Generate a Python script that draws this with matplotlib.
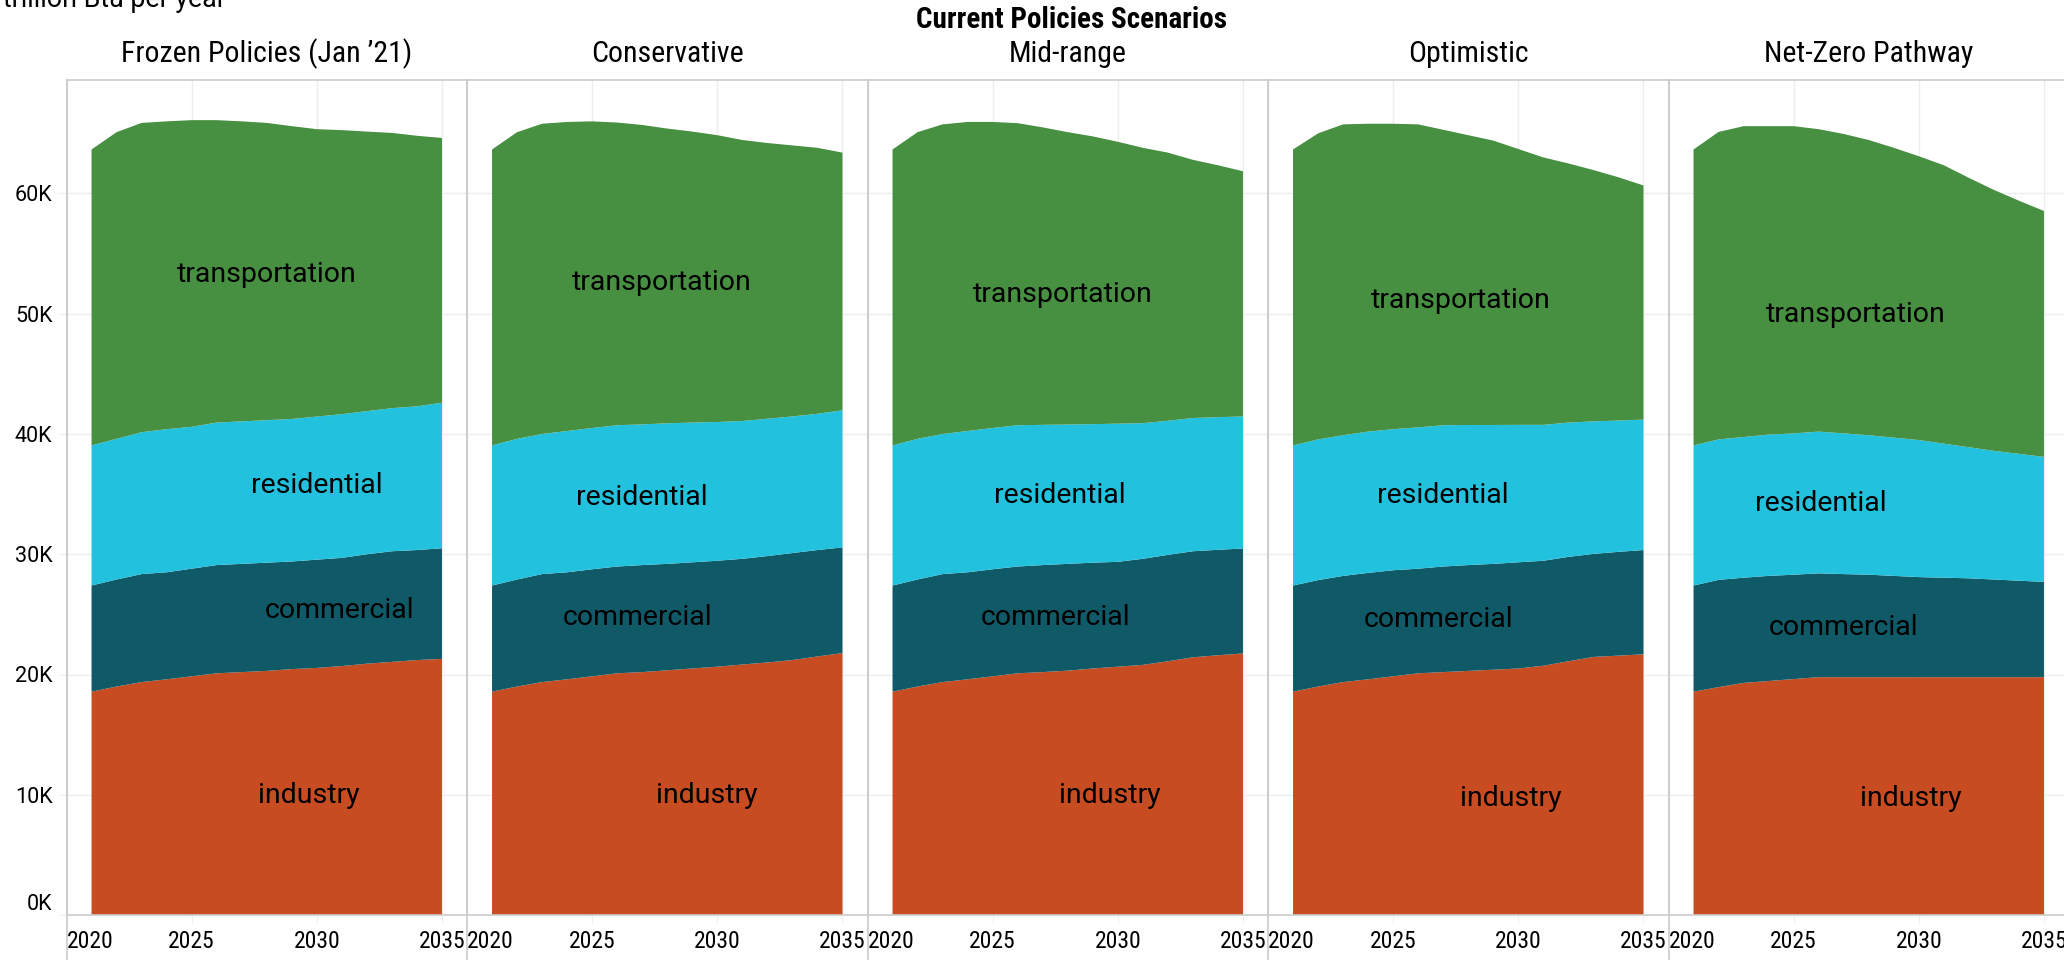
import matplotlib
matplotlib.use("Agg")
import matplotlib.pyplot as plt
from matplotlib import font_manager
from matplotlib.lines import Line2D
from matplotlib.ticker import FuncFormatter
import numpy as np

# data, in thousand trillion Btu per year
years = list(range(2021, 2036))
scenarios = ["Frozen Policies (Jan \u201921)", "Conservative", "Mid-range",
             "Optimistic", "Net-Zero Pathway"]
sectors = ["industry", "commercial", "residential", "transportation"]

industry = [
    [18.57, 19.0, 19.37, 19.6, 19.85, 20.1, 20.2, 20.3, 20.45, 20.55, 20.7, 20.9, 21.05, 21.2, 21.3],
    [18.57, 19.0, 19.37, 19.6, 19.85, 20.1, 20.2, 20.35, 20.5, 20.65, 20.83, 21.0, 21.2, 21.5, 21.78],
    [18.57, 19.0, 19.37, 19.6, 19.85, 20.1, 20.2, 20.32, 20.5, 20.65, 20.8, 21.1, 21.43, 21.6, 21.75],
    [18.57, 19.0, 19.37, 19.6, 19.85, 20.1, 20.2, 20.3, 20.4, 20.5, 20.73, 21.1, 21.46, 21.57, 21.68],
    [18.57, 18.95, 19.3, 19.46, 19.62, 19.78, 19.78, 19.78, 19.78, 19.78, 19.78, 19.78, 19.78, 19.78, 19.78],
]
commercial = [
    [8.83, 8.9, 8.98, 8.9, 8.95, 9.0, 9.0, 9.0, 8.95, 9.0, 9.0, 9.1, 9.2, 9.15, 9.2],
    [8.83, 8.9, 8.98, 8.9, 8.9, 8.88, 8.9, 8.85, 8.83, 8.81, 8.79, 8.85, 8.9, 8.85, 8.79],
    [8.83, 8.9, 8.98, 8.9, 8.9, 8.88, 8.9, 8.88, 8.8, 8.72, 8.82, 8.85, 8.82, 8.77, 8.73],
    [8.83, 8.85, 8.83, 8.85, 8.82, 8.7, 8.78, 8.8, 8.8, 8.83, 8.73, 8.68, 8.57, 8.63, 8.67],
    [8.83, 8.92, 8.75, 8.74, 8.68, 8.63, 8.57, 8.52, 8.42, 8.32, 8.27, 8.22, 8.12, 8.02, 7.92],
]
residential = [
    [11.65, 11.7, 11.8, 11.9, 11.8, 11.85, 11.85, 11.85, 11.85, 11.9, 11.95, 11.9, 11.9, 11.95, 12.1],
    [11.65, 11.7, 11.65, 11.75, 11.75, 11.75, 11.7, 11.69, 11.62, 11.54, 11.46, 11.42, 11.36, 11.33, 11.4],
    [11.65, 11.7, 11.65, 11.75, 11.75, 11.75, 11.66, 11.59, 11.52, 11.49, 11.28, 11.15, 11.08, 11.03, 10.98],
    [11.65, 11.7, 11.7, 11.75, 11.73, 11.75, 11.75, 11.65, 11.55, 11.43, 11.3, 11.17, 11.02, 10.92, 10.85],
    [11.65, 11.68, 11.7, 11.75, 11.75, 11.79, 11.7, 11.6, 11.5, 11.4, 11.15, 10.9, 10.7, 10.55, 10.4],
]
transportation = [
    [24.61, 25.5, 25.72, 25.6, 25.5, 25.15, 24.95, 24.72, 24.35, 23.9, 23.62, 23.25, 22.89, 22.5, 22.02],
    [24.61, 25.5, 25.8, 25.7, 25.5, 25.17, 24.9, 24.51, 24.2, 23.85, 23.37, 22.93, 22.54, 22.12, 21.43],
    [24.61, 25.5, 25.75, 25.7, 25.45, 25.12, 24.74, 24.31, 23.93, 23.44, 22.9, 22.3, 21.47, 20.95, 20.39],
    [24.61, 25.45, 25.85, 25.6, 25.4, 25.2, 24.57, 24.1, 23.65, 22.94, 22.24, 21.55, 20.9, 20.23, 19.47],
    [24.61, 25.57, 25.85, 25.65, 25.55, 25.15, 24.9, 24.55, 24.1, 23.6, 23.15, 22.4, 21.7, 21.05, 20.45],
]

colors = {"industry": "#c84c22", "commercial": "#105a68",
          "residential": "#22c2df", "transportation": "#478f41"}

# where the in-area labels sit (year, value in K)
label_pos = [
    {"transportation": (2028.0, 53.3), "residential": (2030.0, 35.7),
     "commercial": (2030.9, 25.3), "industry": (2029.7, 9.9)},
    {"transportation": (2027.8, 52.6), "residential": (2027.0, 34.7),
     "commercial": (2026.8, 24.7), "industry": (2029.6, 9.9)},
    {"transportation": (2027.8, 51.6), "residential": (2027.7, 34.9),
     "commercial": (2027.5, 24.7), "industry": (2029.7, 9.9)},
    {"transportation": (2027.7, 51.1), "residential": (2027.0, 34.9),
     "commercial": (2026.8, 24.6), "industry": (2029.7, 9.7)},
    {"transportation": (2027.5, 49.9), "residential": (2026.1, 34.2),
     "commercial": (2027.0, 23.9), "industry": (2029.7, 9.7)},
]

installed = {f.name for f in font_manager.fontManager.ttflist}
narrow = "Roboto Condensed" if "Roboto Condensed" in installed else "Roboto"
plt.rcParams["font.family"] = ["Roboto", "DejaVu Sans"]

W, H = 2064, 960
fig = plt.figure(figsize=(W / 100, H / 100), dpi=100)

grid_c = "#eeeeee"
line_c = "#cccccc"
left0, pw = 66.5, 400.5
top_px, bot_px = 80, 915
ymax = (bot_px - top_px) / 120.25 * 10

for i, name in enumerate(scenarios):
    ax = fig.add_axes([(left0 + i * pw) / W, (H - bot_px) / H,
                       pw / W, (bot_px - top_px) / H])
    stack = [industry[i], commercial[i], residential[i], transportation[i]]
    ax.stackplot(years, *[np.array(s) * 1000 for s in stack],
                 colors=[colors[s] for s in sectors], linewidth=0, zorder=2)
    ax.set_xlim(2020, 2036)
    ax.set_ylim(0, ymax * 1000)
    ax.set_xticks([2020, 2025, 2030, 2035])
    ax.set_yticks(np.arange(0, 70000, 10000))
    ax.grid(True, color=grid_c, linewidth=1, zorder=0)
    ax.set_axisbelow(True)
    for side in ["top", "left", "bottom"]:
        ax.spines[side].set_color(line_c)
        ax.spines[side].set_linewidth(1.2)
    ax.spines["right"].set_visible(False)
    ax.tick_params(axis="x", length=6, color=grid_c, labelsize=17, pad=5)
    ax.tick_params(axis="y", length=6, color=grid_c, labelsize=15.5, pad=4)
    for lab in ax.get_xticklabels():
        lab.set_fontfamily(narrow)
    ax.get_xticklabels()[0].set_horizontalalignment("left")
    if i == 0:
        ax.yaxis.set_major_formatter(FuncFormatter(lambda v, p: f"{v / 1000:.0f}K"))
        ax.get_yticklabels()[0].set_verticalalignment("bottom")
    else:
        ax.tick_params(axis="y", left=False, labelleft=False)
    ax.set_title(name, fontsize=21.5, fontfamily=narrow, pad=13)
    for s in sectors:
        x, y = label_pos[i][s]
        ax.text(x, y * 1000, s, fontsize=20.5, ha="center", va="center", zorder=3)
    # panel separator running down through the tick labels
    xl = (left0 + i * pw) / W
    fig.add_artist(Line2D([xl, xl], [0, (H - top_px) / H], color=line_c, linewidth=1.2))

fig.text(1071 / W, 1 - 20 / H, "Current Policies Scenarios", fontsize=21,
         fontweight="bold", fontfamily=narrow, ha="center", va="center")
fig.text(3 / W, 1 - 7 / H, "trillion Btu per year", fontsize=19.3,
         ha="left", va="baseline")

fig.savefig("out.png", dpi=100)
